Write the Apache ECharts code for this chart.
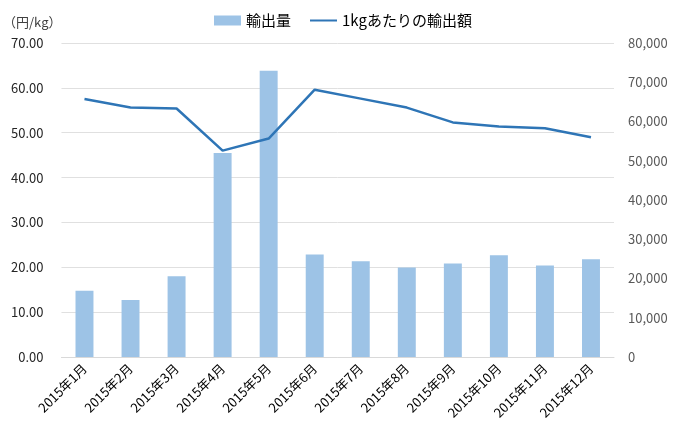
<!DOCTYPE html>
<html>
<head>
<meta charset="utf-8">
<script src="https://cdn.jsdelivr.net/npm/echarts@6/dist/echarts.min.js"></script>
<style>
  html, body { margin: 0; padding: 0; background: #fff; }
  #chart { width: 680px; height: 435px; }
</style>
</head>
<body>
<div id="chart"></div>
<script>
// 月
var months = ['2015年1月', '2015年2月', '2015年3月', '2015年4月', '2015年5月', '2015年6月',
  '2015年7月', '2015年8月', '2015年9月', '2015年10月', '2015年11月', '2015年12月']
// 輸出量（右軸）
var exportVolume = [16900, 14500, 20600, 52000, 72900, 26100, 24400, 22800, 23800, 25900, 23300, 24900]
// 1kgあたりの輸出額（左軸, 円/kg）
var pricePerKg = [57.5, 55.6, 55.4, 46.0, 48.7, 59.6, 57.6, 55.6, 52.3, 51.4, 51.0, 49.0]
var seriesNames = ['輸出量', '1kgあたりの輸出額']

var font = '"Noto Sans CJK JP", sans-serif'
var chart = echarts.init(document.getElementById('chart'))

chart.setOption({
  animation: false,
  textStyle: { fontFamily: font },
  legend: {
    left: 209,
    top: 8,
    itemWidth: 27,
    itemHeight: 10,
    itemGap: 18,
    textStyle: { fontSize: 15, color: '#000', fontFamily: font },
    data: [
      { name: seriesNames[0], icon: 'rect' },
      { name: seriesNames[1], itemStyle: { opacity: 0 } } // 線だけ表示
    ]
  },
  grid: {
    left: 53,
    right: 66,
    top: 43,
    bottom: 78
  },
  xAxis: {
    type: 'category',
    data: months,
    axisLine: { lineStyle: { color: '#d9d9d9' } },
    axisTick: { length: 4, lineStyle: { color: '#d9d9d9' } },
    axisLabel: {
      interval: 0,
      rotate: 45,
      fontSize: 13,
      color: '#000',
      margin: 9,
      fontFamily: font
    }
  },
  yAxis: [
    {
      type: 'value',
      min: 0,
      max: 70,
      interval: 10,
      name: '（円/kg）',
      nameLocation: 'end',
      nameGap: 14,
      nameTextStyle: { align: 'right', fontSize: 13, color: '#404040', fontFamily: font },
      axisLine: { show: false },
      axisTick: { show: false },
      splitLine: { lineStyle: { color: '#e0e0e0', width: 1 } },
      axisLabel: {
        fontSize: 13,
        color: '#262626',
        margin: 18,
        fontFamily: font,
        formatter: function (v) { return v.toFixed(2) }
      }
    },
    {
      type: 'value',
      min: 0,
      max: 80000,
      interval: 10000,
      position: 'right',
      axisLine: { show: false },
      axisTick: { show: false },
      splitLine: { show: false },
      axisLabel: {
        fontSize: 13,
        color: '#595959',
        margin: 14,
        fontFamily: font,
        formatter: function (v) { return v.toLocaleString('en-US') }
      }
    }
  ],
  series: [
    {
      name: seriesNames[0],
      type: 'bar',
      yAxisIndex: 1,
      barWidth: '39%',
      itemStyle: { color: '#9dc3e6' },
      data: exportVolume
    },
    {
      name: seriesNames[1],
      type: 'line',
      yAxisIndex: 0,
      symbol: 'none',
      lineStyle: { color: '#2e75b6', width: 2.5 },
      itemStyle: { color: '#2e75b6' },
      data: pricePerKg
    }
  ]
})
</script>
</body>
</html>
